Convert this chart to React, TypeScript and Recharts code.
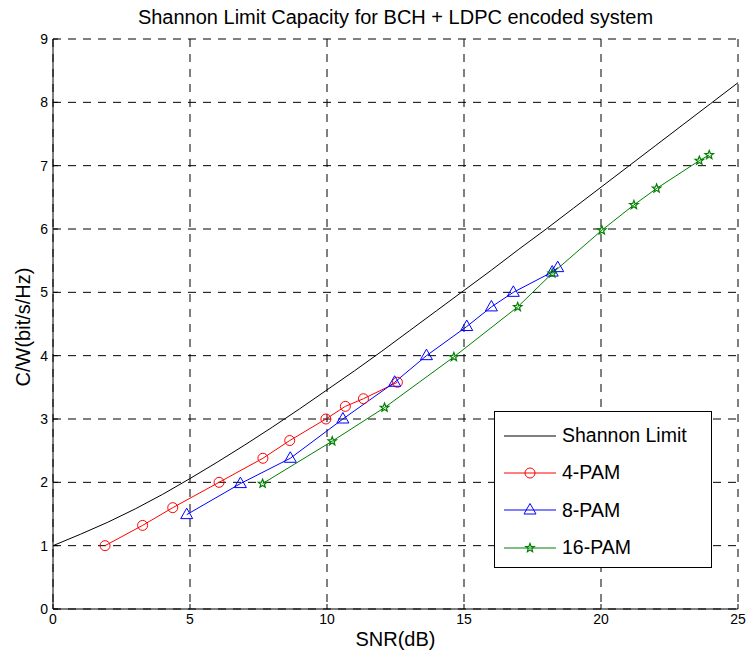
import {
    LineChart,
    Line,
    XAxis,
    YAxis,
    CartesianGrid,
    Legend,
} from "recharts";

const FONT = "'Liberation Sans', Arial, Helvetica, sans-serif";

// Shannon limit curve (SNR in dB, capacity in bit/s/Hz)
const shannonSnr = [0, 1, 2, 3, 4, 5, 6, 7, 8, 9, 10, 11, 12, 13, 14, 15, 16, 17, 18, 19, 20, 21, 22, 23, 24, 25];
const shannonCap = [1.0, 1.18, 1.37, 1.58, 1.81, 2.06, 2.32, 2.59, 2.87, 3.16, 3.46, 3.76, 4.07, 4.39, 4.71, 5.03, 5.35, 5.68, 6.0, 6.33, 6.66, 6.99, 7.32, 7.65, 7.98, 8.31];

const pam4Snr = [1.9, 3.27, 4.37, 6.06, 7.66, 8.64, 9.96, 10.67, 11.33, 12.57];
const pam4Cap = [1.0, 1.32, 1.6, 2.0, 2.38, 2.66, 3.0, 3.2, 3.32, 3.58];

const pam8Snr = [4.88, 6.84, 8.66, 10.58, 12.47, 13.63, 15.1, 16.0, 16.8, 18.22, 18.42];
const pam8Cap = [1.49, 1.98, 2.38, 3.0, 3.58, 4.0, 4.46, 4.77, 5.0, 5.32, 5.39];

const pam16Snr = [7.65, 10.19, 12.1, 14.63, 16.96, 18.22, 20.03, 21.2, 22.03, 23.59, 23.95];
const pam16Cap = [1.98, 2.65, 3.18, 3.98, 4.77, 5.3, 5.98, 6.38, 6.64, 7.08, 7.17];

const xTicks = [0, 5, 10, 15, 20, 25];
const yTicks = [0, 1, 2, 3, 4, 5, 6, 7, 8, 9];

const seriesNames = ["Shannon Limit", "4-PAM", "8-PAM", "16-PAM"];
const seriesColors = ["#000000", "#ff0000", "#0000ff", "#008000"];

const zip = (xs: number[], ys: number[]) => xs.map((x, i) => ({ snr: x, cap: ys[i] }));

const shannonData = zip(shannonSnr, shannonCap);
const pam4Data = zip(pam4Snr, pam4Cap);
const pam8Data = zip(pam8Snr, pam8Cap);
const pam16Data = zip(pam16Snr, pam16Cap);

function circleShape(cx: number, cy: number, color: string, key?: any) {
    return <circle key={key} cx={cx} cy={cy} r={5} fill="none" stroke={color} strokeWidth={1} />;
}

function triangleShape(cx: number, cy: number, color: string, key?: any) {
    const d = `M${cx},${cy - 6.5} L${cx + 6},${cy + 4} L${cx - 6},${cy + 4} Z`;
    return <path key={key} d={d} fill="none" stroke={color} strokeWidth={1} />;
}

function starShape(cx: number, cy: number, color: string, key?: any) {
    const pts: string[] = [];
    for (let i = 0; i < 10; i++) {
        const r = i % 2 === 0 ? 4.5 : 1.9;
        const a = -Math.PI / 2 + (i * Math.PI) / 5;
        pts.push(`${cx + r * Math.cos(a)},${cy + r * Math.sin(a)}`);
    }
    return <polygon key={key} points={pts.join(" ")} fill="none" stroke={color} strokeWidth={1.2} />;
}

const shapes = [null, circleShape, triangleShape, starShape];

function LegendBox() {
    return (
        <div
            style={{
                width: 218,
                height: 157,
                border: "1px solid #000",
                background: "#fff",
                fontFamily: FONT,
                fontSize: 19.5,
                color: "#000",
                boxSizing: "border-box",
                paddingTop: 5,
            }}
        >
            {seriesNames.map((name, i) => (
                <div key={name} style={{ display: "flex", alignItems: "center", height: 37.3 }}>
                    <svg width={58} height={20} style={{ marginLeft: 9 }}>
                        <line x1={0} y1={10} x2={52} y2={10} stroke={seriesColors[i]} strokeWidth={1} />
                        {shapes[i] ? shapes[i]!(26, 10, seriesColors[i]) : null}
                    </svg>
                    <span>{name}</span>
                </div>
            ))}
        </div>
    );
}

export default function App() {
    return (
        <div style={{ position: "absolute", left: 0, top: 0, width: 746, height: 654, background: "#fff" }}>
            <div
                style={{
                    position: "absolute",
                    left: 53,
                    width: 685,
                    top: 6,
                    textAlign: "center",
                    fontFamily: FONT,
                    fontSize: 20,
                    color: "#000",
                }}
            >
                Shannon Limit Capacity for BCH + LDPC encoded system
            </div>
            <div
                style={{
                    position: "absolute",
                    left: 23,
                    top: 327,
                    transform: "translate(-50%, -50%) rotate(-90deg)",
                    fontFamily: FONT,
                    fontSize: 20,
                    whiteSpace: "nowrap",
                    color: "#000",
                }}
            >
                C/W(bit/s/Hz)
            </div>
            <div
                style={{
                    position: "absolute",
                    left: 53,
                    width: 685,
                    top: 628,
                    textAlign: "center",
                    fontFamily: FONT,
                    fontSize: 20,
                    color: "#000",
                }}
            >
                SNR(dB)
            </div>
            <LineChart
                width={746}
                height={654}
                margin={{ top: 39, right: 8, bottom: 15, left: 23 }}
            >
                <CartesianGrid
                    stroke="#000"
                    strokeDasharray="8 7"
                    strokeWidth={1}
                    xAxisId="bottom"
                    yAxisId="left"
                />
                <XAxis
                    xAxisId="bottom"
                    type="number"
                    dataKey="snr"
                    domain={[0, 25]}
                    ticks={xTicks}
                    allowDataOverflow
                    height={30}
                    stroke="#000"
                    tickSize={-5}
                    tickMargin={10}
                    tick={{ fill: "#000", fontSize: 14, fontFamily: FONT }}
                />
                <XAxis
                    xAxisId="top"
                    orientation="top"
                    type="number"
                    dataKey="snr"
                    domain={[0, 25]}
                    ticks={xTicks}
                    height={0}
                    stroke="#000"
                    tickSize={-5}
                    tick={false}
                />
                <YAxis
                    yAxisId="left"
                    type="number"
                    domain={[0, 9]}
                    ticks={yTicks}
                    allowDataOverflow
                    width={30}
                    stroke="#000"
                    tickSize={-5}
                    tickMargin={10}
                    tick={{ fill: "#000", fontSize: 14, fontFamily: FONT }}
                />
                <YAxis
                    yAxisId="right"
                    orientation="right"
                    type="number"
                    domain={[0, 9]}
                    ticks={yTicks}
                    width={0}
                    stroke="#000"
                    tickSize={-5}
                    tick={false}
                />
                <Legend
                    layout="vertical"
                    align="center"
                    verticalAlign="middle"
                    wrapperStyle={{ left: 494, top: 411, width: 218, height: 157 }}
                    content={() => <LegendBox />}
                />
                <Line
                    xAxisId="bottom"
                    yAxisId="left"
                    data={shannonData}
                    dataKey="cap"
                    name={seriesNames[0]}
                    stroke={seriesColors[0]}
                    strokeWidth={1}
                    dot={false}
                    isAnimationActive={false}
                />
                <Line
                    xAxisId="bottom"
                    yAxisId="left"
                    data={pam4Data}
                    dataKey="cap"
                    name={seriesNames[1]}
                    stroke={seriesColors[1]}
                    strokeWidth={1}
                    dot={(p: any) => circleShape(p.cx, p.cy, seriesColors[1], p.index)}
                    isAnimationActive={false}
                />
                <Line
                    xAxisId="bottom"
                    yAxisId="left"
                    data={pam8Data}
                    dataKey="cap"
                    name={seriesNames[2]}
                    stroke={seriesColors[2]}
                    strokeWidth={1}
                    dot={(p: any) => triangleShape(p.cx, p.cy, seriesColors[2], p.index)}
                    isAnimationActive={false}
                />
                <Line
                    xAxisId="bottom"
                    yAxisId="left"
                    data={pam16Data}
                    dataKey="cap"
                    name={seriesNames[3]}
                    stroke={seriesColors[3]}
                    strokeWidth={1}
                    dot={(p: any) => starShape(p.cx, p.cy, seriesColors[3], p.index)}
                    isAnimationActive={false}
                />
            </LineChart>
        </div>
    );
}
